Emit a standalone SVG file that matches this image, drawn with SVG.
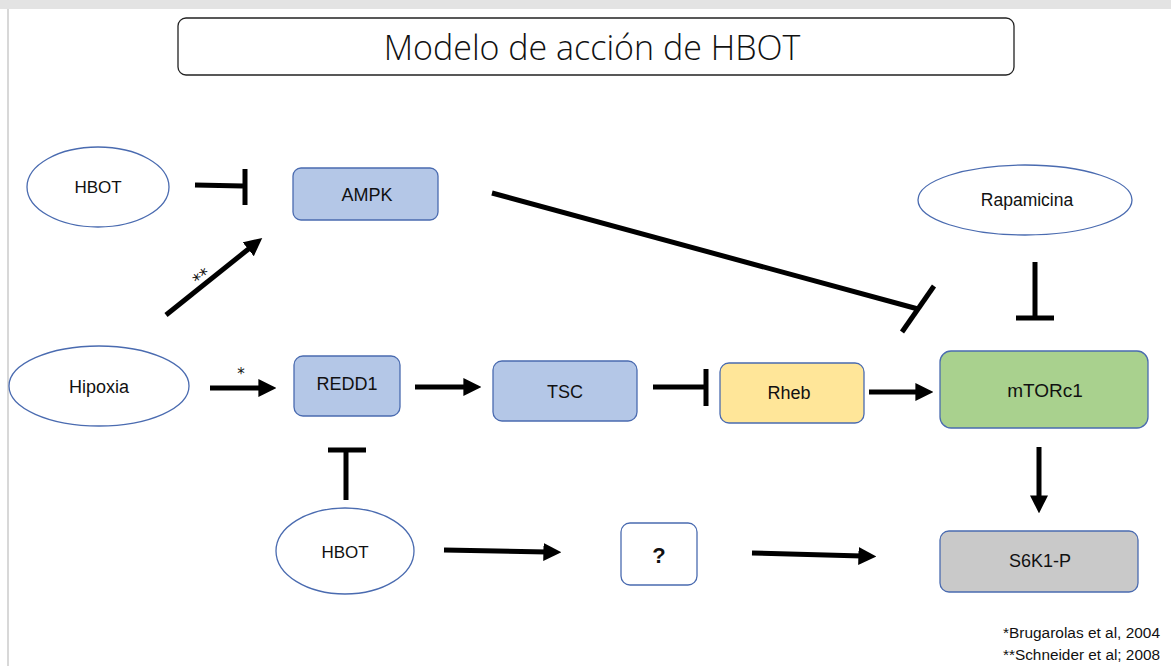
<svg xmlns="http://www.w3.org/2000/svg" width="1171" height="666" viewBox="0 0 1171 666">
<style>
.t{font-family:"Liberation Sans","DejaVu Sans",sans-serif;fill:#111;text-anchor:middle;dominant-baseline:central}
.ell{fill:#fff;stroke:#4a6bb0;stroke-width:1.3}
.box{stroke:#4a6bb0;stroke-width:1.3}
.ln{stroke:#000;stroke-width:5;fill:none}
.bar{stroke:#000;stroke-width:5;fill:none}
.ref{font-family:"Liberation Sans",sans-serif;fill:#111}
.ast{font-family:"DejaVu Sans",sans-serif;fill:#111;text-anchor:middle}
</style>
<defs>
<marker id="ah" viewBox="0 0 10 10" refX="2" refY="5" markerWidth="18" markerHeight="18" markerUnits="userSpaceOnUse" orient="auto">
<path d="M0,0 L10,5 L0,10 z" fill="#000"/>
</marker>
</defs>
<rect x="0" y="0" width="1171" height="666" fill="#fff"/>
<rect x="0" y="0" width="1171" height="9" fill="#e3e3e3"/>
<rect x="7" y="9" width="2" height="657" fill="#d8d8d8"/>

<g id="title">
<rect x="178" y="18" width="836" height="57" rx="8" fill="#fff" stroke="#222" stroke-width="1.3"/>
<text class="t" x="592" y="47" style="font-family:'Open Sans','Liberation Sans',sans-serif;font-weight:300" font-size="34">Modelo de acción de HBOT</text>
</g>

<g id="hbot-top"><ellipse class="ell" cx="98" cy="187" rx="71" ry="40"/><text class="t" x="98" y="187" font-size="17">HBOT</text></g>
<g id="ampk"><rect class="box" x="293" y="168" width="145" height="52" rx="8" fill="#b4c7e7"/><text class="t" x="367" y="195" font-size="18">AMPK</text></g>
<g id="rapamicina"><ellipse class="ell" cx="1025" cy="200" rx="107" ry="35"/><text class="t" x="1027" y="200" font-size="17.5">Rapamicina</text></g>
<g id="hipoxia"><ellipse class="ell" cx="99" cy="386" rx="90" ry="40"/><text class="t" x="99" y="387" font-size="18">Hipoxia</text></g>
<g id="redd1"><rect class="box" x="294" y="356" width="106" height="60" rx="9" fill="#b4c7e7"/><text class="t" x="347" y="384" font-size="18">REDD1</text></g>
<g id="tsc"><rect class="box" x="493" y="361" width="144" height="60" rx="9" fill="#b4c7e7"/><text class="t" x="565" y="392" font-size="18">TSC</text></g>
<g id="rheb"><rect class="box" x="720" y="363" width="144" height="60" rx="9" fill="#ffe699"/><text class="t" x="789" y="393" font-size="18">Rheb</text></g>
<g id="mtorc1"><rect class="box" x="940" y="351" width="208" height="77" rx="11" fill="#a9d18e"/><text class="t" x="1045" y="390" font-size="19">mTORc1</text></g>
<g id="s6k1"><rect class="box" x="940" y="531" width="198" height="61" rx="9" fill="#c9c9c9"/><text class="t" x="1040" y="561" font-size="18">S6K1-P</text></g>
<g id="hbot-bottom"><ellipse class="ell" cx="345" cy="551" rx="69" ry="43"/><text class="t" x="345" y="552" font-size="17">HBOT</text></g>
<g id="unknown"><rect class="box" x="621" y="523" width="76" height="62" rx="9" fill="#fff"/><text class="t" x="659" y="555" font-size="22" font-weight="bold">?</text></g>

<g id="connectors">
<line class="ln" x1="195" y1="185" x2="243" y2="186"/>
<line class="bar" x1="245" y1="169" x2="245" y2="205"/>
<line class="ln" x1="166" y1="315" x2="251" y2="247" marker-end="url(#ah)"/>
<text class="ast" x="201" y="283" font-size="17" transform="rotate(-38 201 276)">**</text>
<line class="ln" x1="492" y1="193" x2="918" y2="309"/>
<line class="bar" x1="934" y1="286" x2="902" y2="332"/>
<line class="ln" x1="1035" y1="262" x2="1035" y2="318"/>
<line class="bar" x1="1016" y1="318" x2="1054" y2="318"/>
<line class="ln" x1="210" y1="388" x2="262" y2="388" marker-end="url(#ah)"/>
<text class="ast" x="241" y="379" font-size="15">*</text>
<line class="ln" x1="415" y1="387" x2="467" y2="387" marker-end="url(#ah)"/>
<line class="ln" x1="653" y1="387" x2="705" y2="387"/>
<line class="bar" x1="706" y1="369" x2="706" y2="406"/>
<line class="ln" x1="869" y1="392" x2="919" y2="392" marker-end="url(#ah)"/>
<line class="ln" x1="1039" y1="447" x2="1039" y2="499" marker-end="url(#ah)"/>
<line class="ln" x1="346" y1="500" x2="346" y2="450"/>
<line class="bar" x1="328" y1="450" x2="366" y2="450"/>
<line class="ln" x1="444" y1="550" x2="547" y2="552" marker-end="url(#ah)"/>
<line class="ln" x1="752" y1="553" x2="862" y2="556" marker-end="url(#ah)"/>
</g>

<g id="refs">
<text class="ref" x="1003" y="638" font-size="14" textLength="157" lengthAdjust="spacingAndGlyphs">*Brugarolas et al, 2004</text>
<text class="ref" x="1003" y="660" font-size="14" textLength="157" lengthAdjust="spacingAndGlyphs">**Schneider et al; 2008</text>
</g>
</svg>
